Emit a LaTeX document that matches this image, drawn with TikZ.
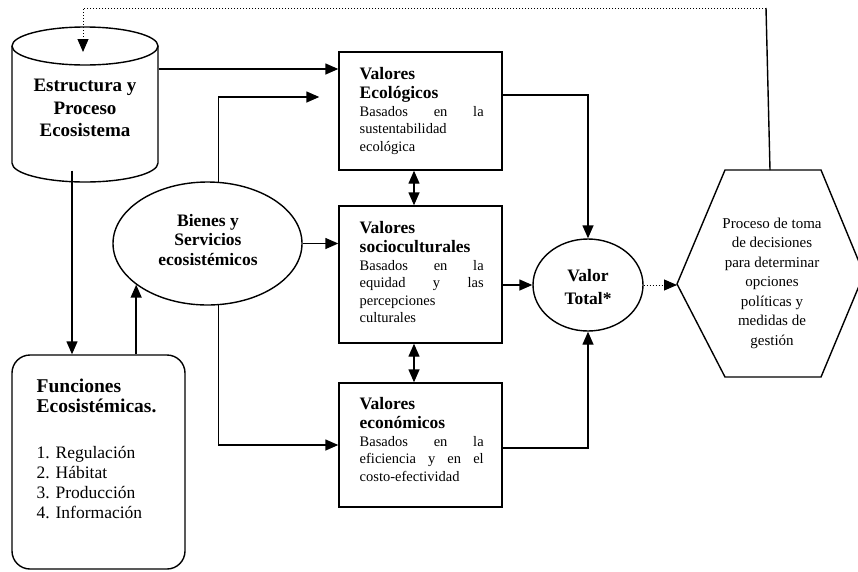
\documentclass[tikz,border=0pt]{standalone}
\usepackage{fontspec}
\setmainfont{Liberation Serif}
\usetikzlibrary{arrows.meta,shapes.geometric}
\frenchspacing
\newcommand\fHead{\fontsize{17.5}{19}\selectfont\bfseries}
\newcommand\fBody{\fontsize{14.5}{17.5}\selectfont}
\newcommand\fCyl{\fontsize{19}{22.5}\selectfont\bfseries}
\newcommand\fFunc{\fontsize{19.5}{20}\selectfont\bfseries}
\newcommand\fList{\fontsize{17.5}{20}\selectfont}
\newcommand\fBien{\fontsize{17.5}{19.5}\selectfont\bfseries}
\newcommand\fValor{\fontsize{17.5}{23}\selectfont\bfseries}
\newcommand\fHex{\fontsize{15}{19.5}\selectfont}
\newcommand\jlA[3]{\leavevmode\hbox to 124pt{#1\hfill #2\hfill #3}}
\newcommand\jlB[4]{\leavevmode\hbox to 124pt{#1\hfill #2\hfill #3\hfill #4}}
\begin{document}
\begin{tikzpicture}[x=1pt,y=-1pt,line width=1.4pt,
  arr/.style={-{Triangle[length=13pt,width=11pt]}},
  dbl/.style={{Triangle[length=13pt,width=11pt]}-{Triangle[length=13pt,width=11pt]}},
  dot/.style={line width=1pt,dash pattern=on 1pt off 2pt},
  valbox/.style={draw,rectangle,inner sep=0pt,minimum width=163pt},
  txt/.style={inner sep=0pt,align=left,text width=124pt,anchor=north west}]
\useasboundingbox (0,0) rectangle (858,571);

% cylinder
\draw (12,46) -- (12,163) arc[start angle=180,end angle=360,x radius=73pt,y radius=19pt] -- (158,46);
\draw (85,46) ellipse [x radius=73pt,y radius=19pt];
\node[inner sep=0pt,minimum width=146pt,minimum height=155pt] (cyl) at (85,104.5) {};
\node[align=center,font=\fCyl,inner sep=0pt] (cylt) at (85,108) {Estructura y\\Proceso\\Ecosistema};

% funciones
\node[draw,rounded corners=18pt,minimum width=173pt,minimum height=214pt,inner sep=0pt] (func) at (98.5,462) {};
\node[txt,text width=150pt,font=\fFunc] (funct) at (36,378.5) {Funciones\\Ecosistémicas.};
\node[txt,text width=150pt,font=\fList] (funcl) at (36,446) {1. Regulación\\2. Hábitat\\3. Producción\\4. Información};

% bienes
\node[draw,ellipse,minimum width=189pt,minimum height=123pt,inner sep=0pt] (bienes) at (207.5,243.5) {};
\node[font=\fBien,align=center,inner sep=0pt] (bient) at (208,240) {Bienes y\\Servicios\\ecosistémicos};

% value boxes
\node[valbox,minimum height=118pt] (ecol) at (420.5,111) {};
\node[valbox,minimum height=137pt] (socio) at (420.5,274.5) {};
\node[valbox,minimum height=124pt] (econ) at (420.5,445) {};
\node[txt] (ecolt) at (359,67) {{\fHead Valores\\Ecológicos\par}{\fBody\jlA{Basados}{en}{la}\\sustentabilidad\\ecológica\par}};
\node[txt] (sociot) at (359,221) {{\fHead Valores\\socioculturales\par}{\fBody\jlA{Basados}{en}{la}\\\jlA{equidad}{y}{las}\\percepciones\\culturales\par}};
\node[txt] (econt) at (359,397) {{\fHead Valores\\económicos\par}{\fBody\jlA{Basados}{en}{la}\\\jlB{eficiencia}{y}{en}{el}\\costo-efectividad\par}};

% valor total
\node[draw,ellipse,minimum width=110pt,minimum height=92pt,inner sep=0pt] (valor) at (588,285) {};
\node[font=\fValor,align=center,inner sep=0pt] (valort) at (588,287) {Valor\\Total*};

% hexagon
\coordinate (hexW) at (677,284);
\coordinate (hexNW) at (725,170);
\coordinate (hexNE) at (821,170);
\coordinate (hexE) at (864,274);
\coordinate (hexSE) at (821,377);
\coordinate (hexSW) at (725,377);
\coordinate (hexTop) at (770,170);
\draw (hexW) -- (hexNW) -- (hexNE) -- (hexE) -- (hexSE) -- (hexSW) -- cycle;
\node[font=\fHex,align=center,inner sep=0pt] (hex) at (772,283) {Proceso de toma\\de decisiones\\para determinar\\opciones\\políticas y\\medidas de\\gestión};

% connectors
\draw[arr] (cyl.east |- 0,69) -- (ecol.west |- 0,69);
\draw[arr] ([xshift=-13pt,yshift=12pt]cyl.south) -- (func.north -| 72,0);
\draw[arr] (func.north -| bienes.210) -- (bienes.210);
\draw[arr] (bienes.80) |- ([xshift=-19pt,yshift=14pt]ecol.west);
\draw[arr] (bienes.east) -- (socio.west |- bienes.east);
\draw[arr] (bienes.280) |- (econ.west);
\draw[dbl] ([xshift=-6.5pt]ecol.south) -- ([xshift=-6.5pt]socio.north);
\draw[dbl] ([xshift=-6.5pt]socio.south) -- ([xshift=-6.5pt]econ.north);
\draw[arr] ([yshift=16pt]ecol.east) -| (valor.north);
\draw[arr] (socio.east |- valor.west) -- (valor.west);
\draw[arr] ([yshift=-3pt]econ.east) -| (valor.south);
\draw[dot,arr] (valor.east) -- (valor.east -| hexW);

% feedback
\coordinate (fbR) at (766,8);
\coordinate (fbL) at (83,8);
\coordinate (fbTip) at (83,52);
\draw (hexTop) -- (fbR);
\draw[dot,arr] (fbR) -- (fbL) -- (fbTip);
\end{tikzpicture}
\end{document}
